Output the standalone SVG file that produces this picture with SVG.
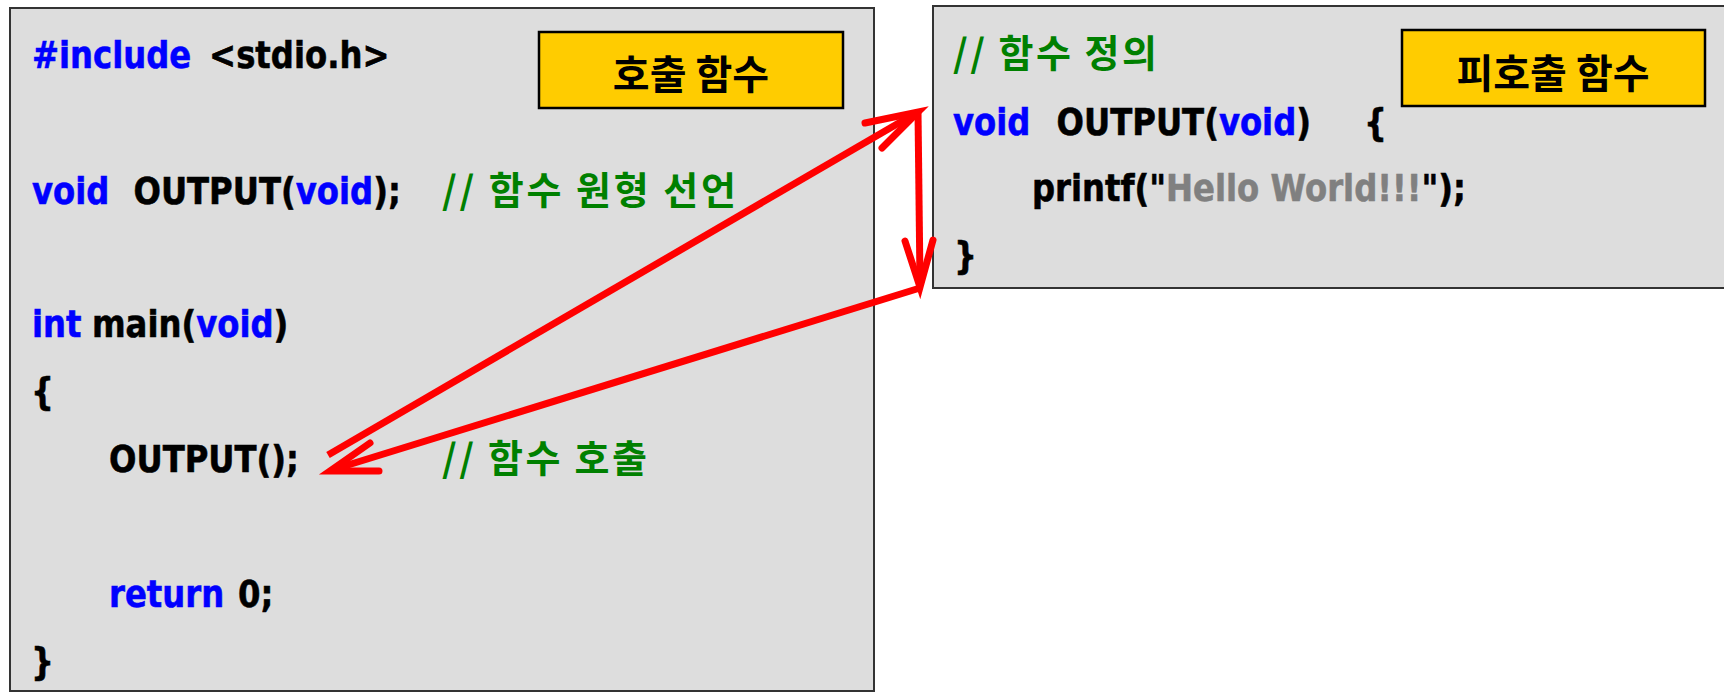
<svg xmlns="http://www.w3.org/2000/svg" width="1724" height="692" viewBox="0 0 1724 692">
<style>
.panel{fill:#DDDDDD;stroke:#333333;stroke-width:2}
.tag{fill:#FFCC00;stroke:#000000;stroke-width:2.5}
.c{font-family:"DejaVu Sans","Noto Sans CJK KR",sans-serif;font-weight:bold;font-size:38px;fill:#000;stroke:#000;stroke-width:0.6}
.k{font-family:"Noto Sans CJK KR","DejaVu Sans",sans-serif;font-weight:bold;font-size:38px;fill:#008000}
.b{fill:#0000FF;stroke:#0000FF}.h{fill:#808080;stroke:#808080}
.tt{font-family:"Noto Sans CJK KR",sans-serif;font-weight:bold;font-size:40px;fill:#000;text-anchor:middle}
.ln{fill:none;stroke:#FF0000;stroke-width:7}
.hd{fill:none;stroke:#FF0000;stroke-width:7;stroke-linecap:round;stroke-linejoin:miter}
</style>
<rect x="0" y="0" width="1724" height="692" fill="#FFFFFF"/>
<g id="caller">
<rect class="panel" x="10" y="8" width="864" height="683"/>
<rect class="tag" x="539" y="32" width="304" height="76"/>
<text class="tt" x="691" y="89">호출 함수</text>
<g transform="scale(0.85,1)">
<text class="c" y="68"><tspan class="b" x="37.6">#include</tspan><tspan x="246">&lt;stdio.h&gt;</tspan></text>
<text class="c" y="204"><tspan class="b" x="37.6">void</tspan><tspan x="157">OUTPUT(</tspan><tspan class="b">void</tspan><tspan>);</tspan></text>
<text class="c" y="337"><tspan class="b" x="37.6">int</tspan><tspan x="108.2">main(</tspan><tspan class="b">void</tspan><tspan>)</tspan></text>
<text class="c" x="36.5" y="404">{</text>
<text class="c" x="128.2" y="472">OUTPUT();</text>
<text class="c" y="607"><tspan class="b" x="128.2">return</tspan><tspan x="280">0;</tspan></text>
<text class="c" x="36.5" y="674">}</text>
</g>
<text class="k" x="442" y="204" textLength="294" lengthAdjust="spacing">// 함수 원형 선언</text>
<text class="k" x="442" y="472" textLength="205" lengthAdjust="spacing">// 함수 호출</text>
</g>
<g id="callee">
<rect class="panel" x="933" y="6" width="800" height="282"/>
<rect class="tag" x="1402" y="30" width="303" height="76"/>
<text class="tt" x="1553" y="88">피호출 함수</text>
<text class="k" x="953" y="67" textLength="204" lengthAdjust="spacing">// 함수 정의</text>
<g transform="scale(0.85,1)">
<text class="c" y="135"><tspan class="b" x="1121.2">void</tspan><tspan x="1243">OUTPUT(</tspan><tspan class="b">void</tspan><tspan>)</tspan><tspan x="1604.7">{</tspan></text>
<text class="c" y="201"><tspan x="1214">printf("</tspan><tspan class="h">Hello World!!!</tspan><tspan>");</tspan></text>
<text class="c" x="1122.4" y="268">}</text>
</g>
</g>
<g id="connectors">
<line class="ln" x1="328" y1="455" x2="916" y2="113"/>
<polyline class="hd" points="865,123 918,112 882,148"/>
<line class="ln" x1="918" y1="112" x2="920" y2="282"/>
<polyline class="hd" points="905,241 920,287 933,240"/>
<line class="ln" x1="920" y1="288" x2="335" y2="469"/>
<polyline class="hd" points="370,443 330,471 379,471"/>
</g>
</svg>
